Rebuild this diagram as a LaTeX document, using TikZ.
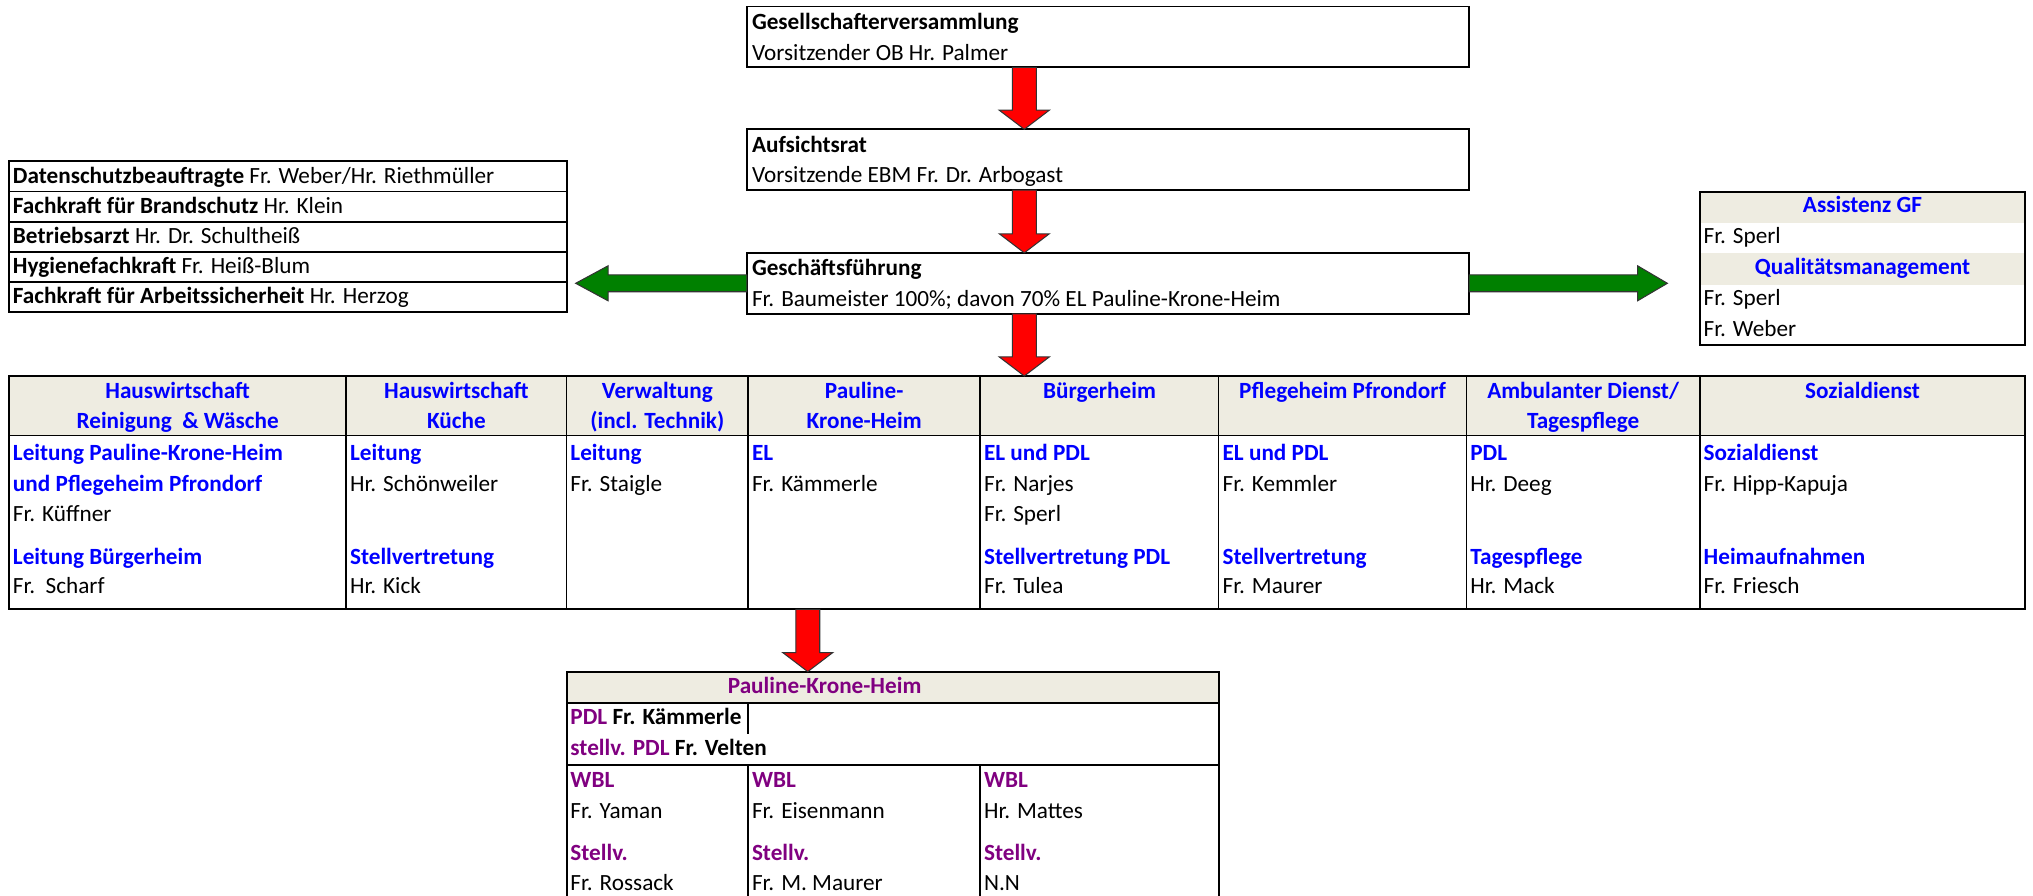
\documentclass[tikz,border=0pt]{standalone}
\usepackage{fontspec}
\setmainfont{Carlito}
\usetikzlibrary{calc}
\definecolor{hdrfill}{HTML}{EEECE1}
\definecolor{txtblue}{HTML}{0000FF}
\definecolor{txtpurple}{HTML}{800080}
\definecolor{arrgreen}{HTML}{008000}
\definecolor{arrred}{HTML}{FF0000}
\newcommand{\myfs}{\fontsize{17.9}{21}\selectfont}
\newcommand{\bluebf}[1]{{\color{txtblue}\bfseries #1}}
\newcommand{\purplebf}[1]{{\color{txtpurple}\bfseries #1}}
\newcommand{\redarrowdown}[2]{%
  \filldraw[redarr] ($(#1)+(-9.25,0)$) -- ($(#2)+(-9.25,-14.7)$) -- ($(#2)+(-19.3,-14.7)$) -- (#2)
    -- ($(#2)+(19.3,-14.7)$) -- ($(#2)+(9.25,-14.7)$) -- ($(#1)+(9.25,0)$) -- cycle;}
\newcommand{\greenarrowh}[3]{%
  \filldraw[grarr] ($(#1)+(0,-6.5)$) -- ($(#2)+(#3,-6.5)$) -- ($(#2)+(#3,-13.5)$) -- (#2)
    -- ($(#2)+(#3,13.5)$) -- ($(#2)+(#3,6.5)$) -- ($(#1)+(0,6.5)$) -- cycle;}
\tikzset{
  every node/.style={inner sep=0pt, outer sep=0pt},
  txt/.style={anchor=base west, font=\myfs},
  ctxt/.style={anchor=base, font=\myfs\bfseries, text=txtblue},
  frame/.style={draw, line width=1.5pt, rectangle, anchor=north west},
  band/.style={fill=hdrfill, rectangle, anchor=north west},
  thinline/.style={line width=1.1pt},
  thickline/.style={line width=1.5pt},
  redarr/.style={fill=arrred, draw=black!80, line width=0.8pt, line join=miter},
  grarr/.style={fill=arrgreen, draw=black!80, line width=0.8pt, line join=miter},
}
\begin{document}
\begin{tikzpicture}[x=1pt, y=-1pt]
\useasboundingbox (0,0) rectangle (1568,691);

% ---------- top boxes ----------
\node[frame, minimum width=557, minimum height=47] (b1) at (576,5) {};
\node[frame, minimum width=557, minimum height=47] (b2) at (576,99.7) {};
\node[frame, minimum width=557, minimum height=47] (b3) at (576,195) {};
\node[txt] (b1t1) at (580,22.6) {\bfseries Gesellschafterversammlung};
\node[txt] (b1t2) at (580,46.3) {Vorsitzender OB Hr. Palmer};
\node[txt] (b2t1) at (580,117.3) {\bfseries Aufsichtsrat};
\node[txt] (b2t2) at (580,141) {Vorsitzende EBM Fr. Dr. Arbogast};
\node[txt] (b3t1) at (580,212.6) {\bfseries Geschäftsführung};
\node[txt] (b3t2) at (580,236.3) {Fr. Baumeister 100\%; davon 70\% EL Pauline-Krone-Heim};

% ---------- left list ----------
\node[frame, minimum width=430, minimum height=116] (lst) at (7,124.5) {};
\draw[thickline] (7,147.7) -- (437,147.7) (7,170.9) -- (437,170.9) (7,194.1) -- (437,194.1) (7,217.3) -- (437,217.3);
\node[txt] (l1) at (10,141.5) {\textbf{Datenschutzbeauftragte} Fr. Weber/Hr. Riethmüller};
\node[txt] (l2) at (10,164.7) {\textbf{Fachkraft für Brandschutz} Hr. Klein};
\node[txt] (l3) at (10,187.9) {\textbf{Betriebsarzt} Hr. Dr. Schultheiß};
\node[txt] (l4) at (10,211.1) {\textbf{Hygienefachkraft} Fr. Heiß-Blum};
\node[txt] (l5) at (10,234.3) {\textbf{Fachkraft für Arbeitssicherheit} Hr. Herzog};

% ---------- right box ----------
\node[band, minimum width=251, minimum height=24] (rb1) at (1311,148) {};
\node[band, minimum width=251, minimum height=25] (rb2) at (1311,195) {};
\node[frame, minimum width=251, minimum height=118] (rbox) at (1311,148) {};
\node[ctxt] (r1) at (1436.5,164) {Assistenz GF};
\node[txt] (r2) at (1314,188) {Fr. Sperl};
\node[ctxt] (r3) at (1436.5,212) {Qualitätsmanagement};
\node[txt] (r4) at (1314,236) {Fr. Sperl};
\node[txt] (r5) at (1314,259.5) {Fr. Weber};

% ---------- main table ----------
\node[band, minimum width=1555, minimum height=46] (thead) at (7,290) {};
\draw[thinline] (7,336) -- (1562,336);
\foreach \cx in {267,437,577,756,940,1131,1311}{\draw[thinline] (\cx,290) -- (\cx,470);}
\node[frame, minimum width=1555, minimum height=180] (tbl) at (7,290) {};

\node[ctxt] (h1a) at (137,307) {Hauswirtschaft};
\node[ctxt] (h1b) at (137,330.5) {Reinigung\ \ \& Wäsche};
\node[ctxt] (h2a) at (352,307) {Hauswirtschaft};
\node[ctxt] (h2b) at (352,330.5) {Küche};
\node[ctxt] (h3a) at (507,307) {Verwaltung};
\node[ctxt] (h3b) at (507,330.5) {(incl. Technik)};
\node[ctxt] (h4a) at (666.5,307) {Pauline-};
\node[ctxt] (h4b) at (666.5,330.5) {Krone-Heim};
\node[ctxt] (h5a) at (848,307) {Bürgerheim};
\node[ctxt] (h6a) at (1035.5,307) {Pflegeheim Pfrondorf};
\node[ctxt] (h7a) at (1221,307) {Ambulanter Dienst/};
\node[ctxt] (h7b) at (1221,330.5) {Tagespflege};
\node[ctxt] (h8a) at (1436.5,307) {Sozialdienst};

% column 1
\node[txt] (c1a) at (10,355) {\bluebf{Leitung Pauline-Krone-Heim}};
\node[txt] (c1b) at (10,379) {\bluebf{und Pflegeheim Pfrondorf}};
\node[txt] (c1c) at (10,402.5) {Fr. Küffner};
\node[txt] (c1d) at (10,435) {\bluebf{Leitung Bürgerheim}};
\node[txt] (c1e) at (10,458) {Fr.\ \ Scharf};
% column 2
\node[txt] (c2a) at (270,355) {\bluebf{Leitung}};
\node[txt] (c2b) at (270,379) {Hr. Schönweiler};
\node[txt] (c2d) at (270,435) {\bluebf{Stellvertretung}};
\node[txt] (c2e) at (270,458) {Hr. Kick};
% column 3
\node[txt] (c3a) at (440,355) {\bluebf{Leitung}};
\node[txt] (c3b) at (440,379) {Fr. Staigle};
% column 4
\node[txt] (c4a) at (580,355) {\bluebf{EL}};
\node[txt] (c4b) at (580,379) {Fr. Kämmerle};
% column 5
\node[txt] (c5a) at (759,355) {\bluebf{EL und PDL}};
\node[txt] (c5b) at (759,379) {Fr. Narjes};
\node[txt] (c5c) at (759,402.5) {Fr. Sperl};
\node[txt] (c5d) at (759,435) {\bluebf{Stellvertretung PDL}};
\node[txt] (c5e) at (759,458) {Fr. Tulea};
% column 6
\node[txt] (c6a) at (943,355) {\bluebf{EL und PDL}};
\node[txt] (c6b) at (943,379) {Fr. Kemmler};
\node[txt] (c6d) at (943,435) {\bluebf{Stellvertretung}};
\node[txt] (c6e) at (943,458) {Fr. Maurer};
% column 7
\node[txt] (c7a) at (1134,355) {\bluebf{PDL}};
\node[txt] (c7b) at (1134,379) {Hr. Deeg};
\node[txt] (c7d) at (1134,435) {\bluebf{Tagespflege}};
\node[txt] (c7e) at (1134,458) {Hr. Mack};
% column 8
\node[txt] (c8a) at (1314,355) {\bluebf{Sozialdienst}};
\node[txt] (c8b) at (1314,379) {Fr. Hipp-Kapuja};
\node[txt] (c8d) at (1314,435) {\bluebf{Heimaufnahmen}};
\node[txt] (c8e) at (1314,458) {Fr. Friesch};

% ---------- bottom table ----------
\node[band, draw, line width=1.5pt, minimum width=503, minimum height=24] (bhead) at (437,518) {};
\draw[thickline] (437,518) -- (437,691) (940,518) -- (940,691);
\draw[thinline] (577,542) -- (577,566);
\draw[thickline] (437,590) -- (940,590);
\draw[thinline] (577,590) -- (577,691) (756,590) -- (756,691);
\node[anchor=base, font=\myfs\bfseries, text=txtpurple] (bt0) at (636,535) {Pauline-Krone-Heim};
\node[txt] (bt1) at (440,559) {\purplebf{PDL} \textbf{Fr. Kämmerle}};
\node[txt] (bt2) at (440,582.5) {\purplebf{stellv. PDL} \textbf{Fr. Velten}};
\node[txt] (w1a) at (440,607.5) {\purplebf{WBL}};
\node[txt] (w1b) at (440,631) {Fr. Yaman};
\node[txt] (w1c) at (440,663.5) {\purplebf{Stellv.}};
\node[txt] (w1d) at (440,687) {Fr. Rossack};
\node[txt] (w2a) at (580,607.5) {\purplebf{WBL}};
\node[txt] (w2b) at (580,631) {Fr. Eisenmann};
\node[txt] (w2c) at (580,663.5) {\purplebf{Stellv.}};
\node[txt] (w2d) at (580,687) {Fr. M. Maurer};
\node[txt] (w3a) at (759,607.5) {\purplebf{WBL}};
\node[txt] (w3b) at (759,631) {Hr. Mattes};
\node[txt] (w3c) at (759,663.5) {\purplebf{Stellv.}};
\node[txt] (w3d) at (759,687) {N.N};

% ---------- arrows ----------
\coordinate (ax) at (790,0);
\coordinate (bx) at (623,0);
\coordinate (a1t) at (b1.south -| ax);
\coordinate (a1b) at (b2.north -| ax);
\coordinate (a2t) at (b2.south -| ax);
\coordinate (a2b) at (b3.north -| ax);
\coordinate (a3t) at (b3.south -| ax);
\coordinate (a3b) at (tbl.north -| ax);
\coordinate (a4t) at (tbl.south -| bx);
\coordinate (a4b) at (bhead.north -| bx);
\redarrowdown{a1t}{a1b}
\redarrowdown{a2t}{a2b}
\redarrowdown{a3t}{a3b}
\redarrowdown{a4t}{a4b}

\coordinate (glt) at ($(b3.west -| lst.east)+(7,0)$);
\coordinate (grt) at ($(b3.east -| rbox.west)+(-25,0)$);
\greenarrowh{b3.west}{glt}{25}
\greenarrowh{b3.east}{grt}{-23}
\end{tikzpicture}
\end{document}
